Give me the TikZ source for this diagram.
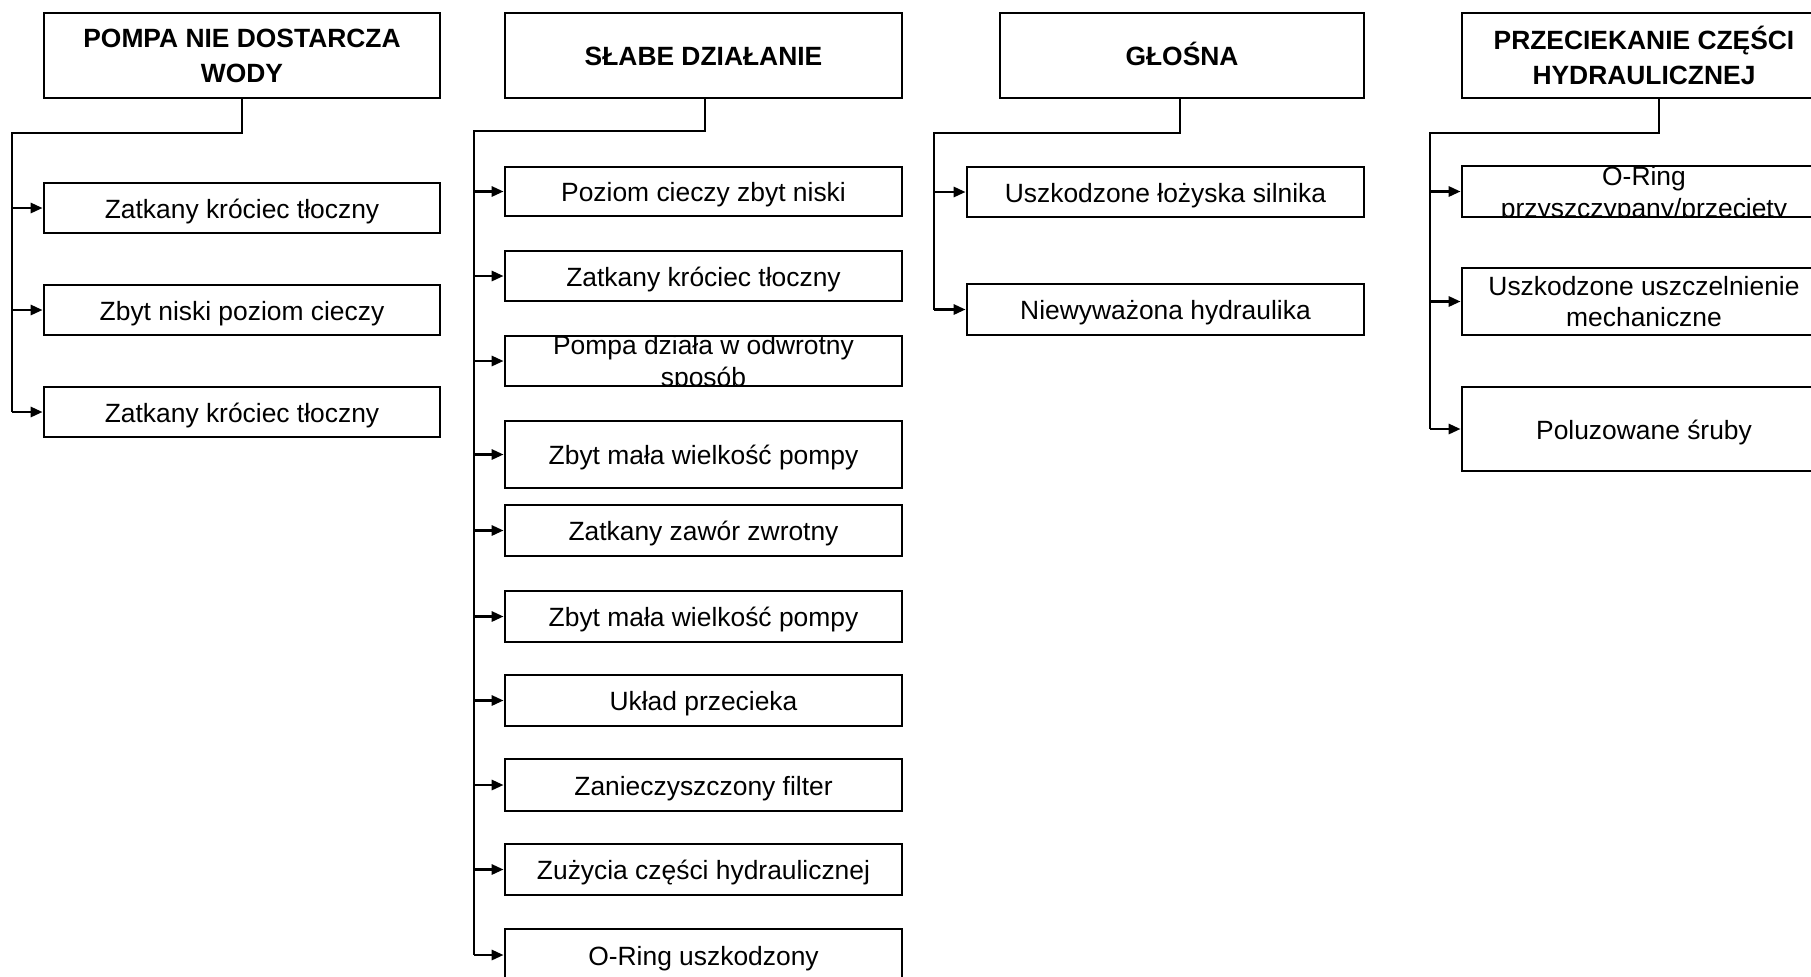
\documentclass[tikz,border=0pt]{standalone}
\usepackage{fontspec}
\setmainfont{Liberation Sans}
\usetikzlibrary{arrows.meta}
\newcommand\mybox[7]{% style, name, x1, y1, x2, y2, text
  \pgfmathsetmacro\bw{(#5-#3)*0.5}\pgfmathsetmacro\bh{(#6-#4)*0.5}%
  \node[#1, minimum width=\bw pt, minimum height=\bh pt] (#2) at ({(#3+#5)/2},{(#4+#6)/2}) {#7};}
\newcommand\myclipbox[6]{% name, x1, y1, x2, y2, text (text clipped to the box)
  \begin{scope}
    \clip (#2,#3) rectangle (#4,#5);
    \node[boxtext, font=\fontsize{13.2}{16}\selectfont] (#1-t) at ({(#2+#4)/2},{(#3+#5)/2+3}) {#6};
  \end{scope}
  \mybox{box}{#1}{#2}{#3}{#4}{#5}{}}
\begin{document}
\begin{tikzpicture}[x=0.5pt,y=-0.5pt,
  boxtext/.style={inner sep=0pt, align=center, font=\fontsize{13.2}{15.5}\selectfont},
  box/.style={boxtext, draw, line width=1.35pt},
  one/.style={box, text height=13pt, text depth=3pt},
  head/.style={box, font=\fontsize{13.2}{17.5}\selectfont\bfseries},
  headone/.style={head, text height=13pt, text depth=3pt},
  conn/.style={line width=1.4pt},
  arr/.style={conn, -{Triangle[length=6pt,width=5pt]}}]
\fill[white] (0,0) rectangle (1811,976);
\clip (0,0) rectangle (1811,976);

% ---------- column 1
\mybox{head}{h1}{44}{13}{440}{98}{POMPA NIE DOSTARCZA\\WODY}
\mybox{one}{c11}{44}{183}{440}{233}{Zatkany króciec tłoczny}
\mybox{one}{c12}{44}{285}{440}{335}{Zbyt niski poziom cieczy}
\mybox{one}{c13}{44}{387}{440}{437}{Zatkany króciec tłoczny}
\coordinate (j1) at (242,133);
\coordinate (k1) at (12,133);
\draw[conn] (h1.south -| j1) -- (j1) -- (k1) -- (k1 |- c13.west);
\foreach \c in {c11,c12,c13} \draw[arr] (k1 |- \c.west) -- (\c.west);

% ---------- column 2
\mybox{headone}{h2}{505}{13}{902}{98}{SŁABE DZIAŁANIE}
\mybox{one}{c21}{505}{167}{902}{216}{Poziom cieczy zbyt niski}
\mybox{one}{c22}{505}{251}{902}{301}{Zatkany króciec tłoczny}
\myclipbox{c23}{505}{336}{902}{386}{Pompa działa w odwrotny\\sposób}
\mybox{one}{c24}{505}{421}{902}{488}{Zbyt mała wielkość pompy}
\mybox{one}{c25}{505}{505}{902}{556}{Zatkany zawór zwrotny}
\mybox{one}{c26}{505}{591}{902}{642}{Zbyt mała wielkość pompy}
\mybox{one}{c27}{505}{675}{902}{726}{Układ przecieka}
\mybox{one}{c28}{505}{759}{902}{811}{Zanieczyszczony filter}
\mybox{one}{c29}{505}{844}{902}{895}{Zużycia części hydraulicznej}
\mybox{one}{c210}{505}{929}{902}{981}{O-Ring uszkodzony}
\coordinate (j2) at (705,131);
\coordinate (k2) at (474,131);
\draw[conn] (h2.south -| j2) -- (j2) -- (k2) -- (k2 |- c210.west);
\foreach \c in {c21,c22,c23,c24,c25,c26,c27,c28,c29,c210} \draw[arr] (k2 |- \c.west) -- (\c.west);

% ---------- column 3
\mybox{headone}{h3}{1000}{13}{1364}{98}{GŁOŚNA}
\mybox{one}{c31}{967}{167}{1364}{217}{Uszkodzone łożyska silnika}
\mybox{one}{c32}{967}{284}{1364}{335}{Niewyważona hydraulika}
\coordinate (j3) at (1180,133);
\coordinate (k3) at (934,133);
\draw[conn] (h3.south -| j3) -- (j3) -- (k3) -- (k3 |- c32.west);
\foreach \c in {c31,c32} \draw[arr] (k3 |- \c.west) -- (\c.west);

% ---------- column 4
\mybox{head}{h4}{1462}{13}{1826}{98}{PRZECIEKANIE CZĘŚCI\\HYDRAULICZNEJ}
\myclipbox{c41}{1462}{166}{1826}{217}{O-Ring\\przyszczypany/przecięty}
\mybox{box}{c42}{1462}{268}{1826}{335}{Uszkodzone uszczelnienie\\mechaniczne}
\mybox{one}{c43}{1462}{387}{1826}{471}{Poluzowane śruby}
\coordinate (j4) at (1659,133);
\coordinate (k4) at (1430,133);
\draw[conn] (h4.south -| j4) -- (j4) -- (k4) -- (k4 |- c43.west);
\foreach \c in {c41,c42,c43} \draw[arr] (k4 |- \c.west) -- (\c.west);
\end{tikzpicture}
\end{document}
